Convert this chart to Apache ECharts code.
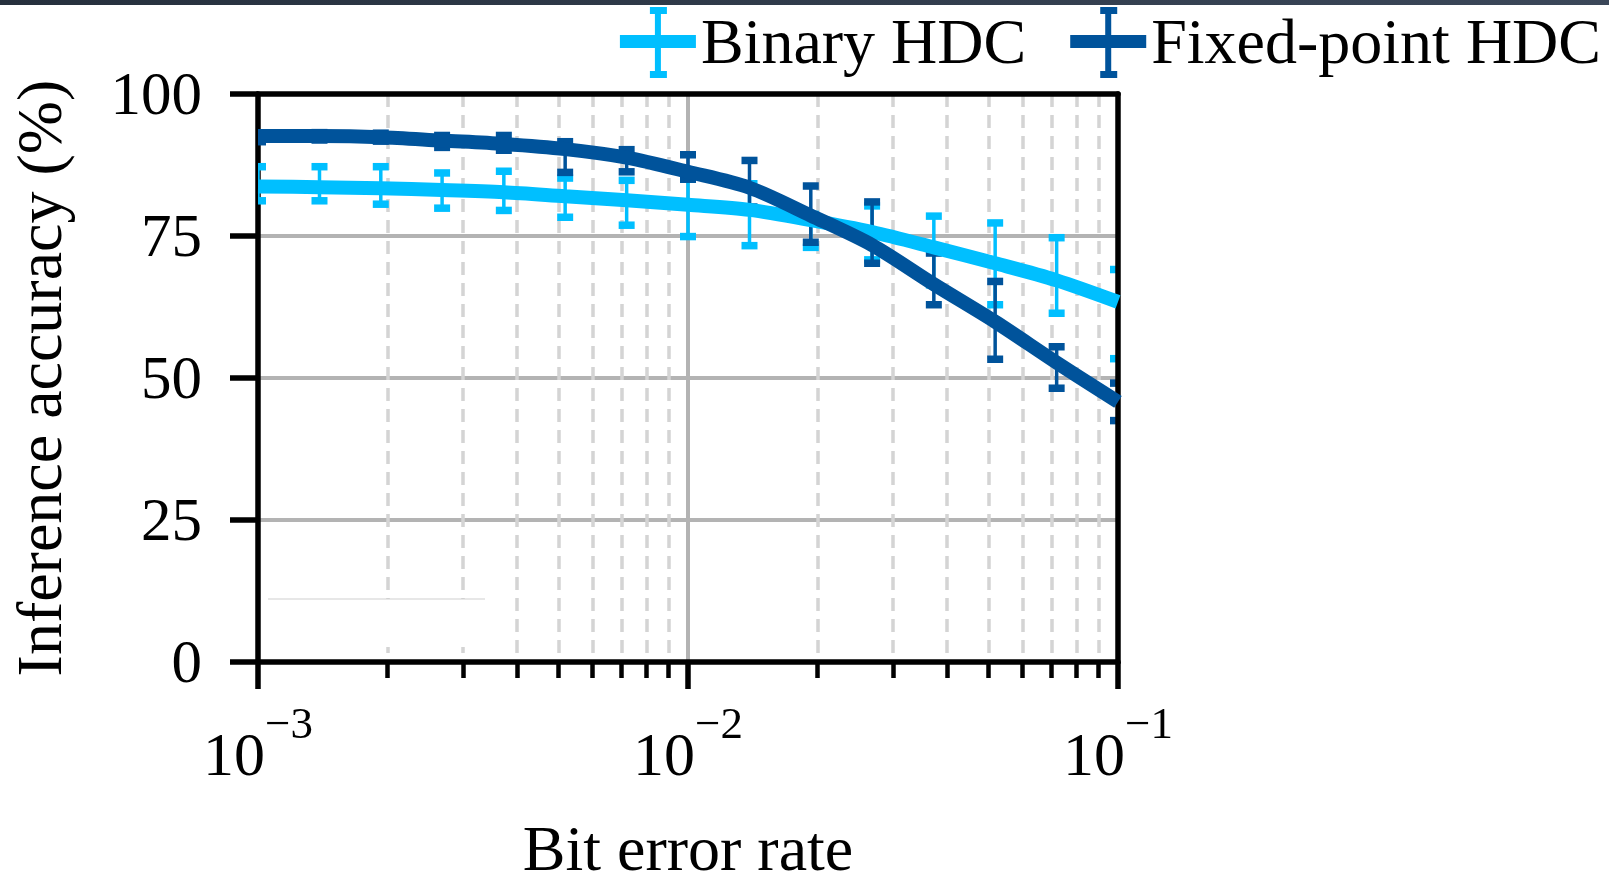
<!doctype html>
<html>
<head>
<meta charset="utf-8"/>
<title>bit error rate vs accuracy</title>
<script src="https://cdn.jsdelivr.net/npm/echarts@6/dist/echarts.min.js"></script>
<style>
*{margin:0;padding:0;}
body{background:#ffffff;}
#main{width:1609px;height:877px;}
</style>
</head>
<body>
<div id="main"></div>
<script type="text/javascript">

// bit error rate (x), 7 points per decade
var berValues = [0.001, 0.00139, 0.00193, 0.00268, 0.00373, 0.00518, 0.00720, 0.01,
                 0.0139, 0.0193, 0.0268, 0.0373, 0.0518, 0.0720, 0.1];

// fitted curves
var binaryFit = [83.7, 83.6, 83.4, 83.1, 82.7, 82.0, 81.3, 80.5, 79.6, 77.8, 75.7, 73.0, 70.2, 67.2, 63.4];
var fixedFit  = [92.6, 92.6, 92.4, 91.8, 91.2, 90.3, 88.8, 86.3, 83.5, 78.6, 73.4, 66.5, 59.9, 52.7, 45.8];

// error bars (low / high)
var binaryLow  = [81.2, 81.2, 80.6, 79.9, 79.5, 78.3, 76.9, 74.9, 73.3, 73.0, 70.8, 66.4, 62.9, 61.4, 53.4];
var binaryHigh = [87.2, 87.2, 87.2, 86.1, 86.4, 85.2, 84.8, 85.0, 84.2, 78.8, 80.3, 78.5, 77.3, 74.7, 69.1];
var fixedLow   = [91.6, 91.9, 91.7, 90.6, 90.1, 86.2, 86.3, 85.0, 80.1, 73.9, 70.2, 62.9, 53.3, 48.2, 42.5];
var fixedHigh  = [93.0, 93.2, 93.1, 92.7, 92.7, 91.6, 90.2, 89.3, 88.3, 83.8, 81.0, 72.0, 67.0, 55.5, 49.1];

var yTicks = [0, 25, 50, 75, 100];
var seriesNames = ['Binary HDC', 'Fixed-point HDC'];

var LIGHT = '#00BFFF';
var DARK = '#00539B';
var FONT = 'Liberation Serif';

function pairs(a) {
  return berValues.map(function (x, i) { return [x, a[i]]; });
}
function bars(lo, hi) {
  return berValues.map(function (x, i) { return [x, lo[i], hi[i]]; });
}

// vertical error bar with flat caps
function errorBar(params, api) {
  var x = api.value(0);
  var lo = api.coord([x, api.value(1)]);
  var hi = api.coord([x, api.value(2)]);
  var color = api.visual('color');
  var cw = 16, ch = 7.5;
  return {
    type: 'group',
    children: [
      {type: 'line', shape: {x1: lo[0], y1: lo[1], x2: hi[0], y2: hi[1]}, style: {stroke: color, lineWidth: 3.5}},
      {type: 'rect', shape: {x: hi[0] - cw / 2, y: hi[1] - ch / 2, width: cw, height: ch}, style: {fill: color}},
      {type: 'rect', shape: {x: lo[0] - cw / 2, y: lo[1] - ch / 2, width: cw, height: ch}, style: {fill: color}}
    ]
  };
}

// frame lines (top / right), drawn over the series
function boxAxis(pos) {
  return {
    show: true,
    position: pos,
    z: 3,
    axisLine: {show: true, onZero: false, lineStyle: {color: '#000', width: 5.5}},
    axisTick: {show: false},
    axisLabel: {show: false},
    splitLine: {show: false}
  };
}

var chart = echarts.init(document.getElementById('main'));

var topX = boxAxis('top');
topX.type = 'log'; topX.logBase = 10; topX.min = 0.001; topX.max = 0.1;
var rightY = boxAxis('right');
rightY.type = 'value'; rightY.min = 0; rightY.max = 100;

var option = {
  animation: false,
  backgroundColor: '#ffffff',
  grid: {left: 258, right: 491, top: 94, bottom: 215, containLabel: false, outerBoundsMode: 'none'},
  legend: {
    data: seriesNames,
    right: 8,
    top: 7,
    padding: 0,
    itemGap: 44,
    itemWidth: 76,
    itemHeight: 71,
    icon: 'path://M0,28H76V41H0Z M35,0H41V71H35Z M30,0H47V7H30Z M30,64H47V71H30Z',
    formatter: function (name) { return '{s| }\n{t|' + name + '}'; },
    textStyle: {
      color: '#000',
      rich: {
        s: {fontSize: 1, lineHeight: 8},
        t: {fontFamily: FONT, fontSize: 64, lineHeight: 64, color: '#000'}
      }
    }
  },
  xAxis: [
    {
      type: 'log',
      logBase: 10,
      min: 0.001,
      max: 0.1,
      interval: 1,
      position: 'bottom',
      axisLine: {show: true, onZero: false, lineStyle: {color: '#000', width: 5.5}},
      axisTick: {show: true, inside: false, length: 27, lineStyle: {color: '#000', width: 5.5}},
      minorTick: {show: true, splitNumber: 9, length: 16, lineStyle: {color: '#000', width: 4.5}},
      splitLine: {show: true, lineStyle: {color: '#b3b3b3', width: 4}},
      minorSplitLine: {show: true, lineStyle: {color: '#d4d4d4', width: 3.5, type: [13, 8]}},
      axisLabel: {
        margin: 42,
        formatter: function (v) {
          var e = Math.round(Math.log(v) / Math.LN10);
          return '{a|10}{b|' + (e < 0 ? '\u2212' : '') + Math.abs(e) + '}';
        },
        rich: {
          a: {fontFamily: FONT, fontSize: 62, lineHeight: 110, color: '#000'},
          b: {fontFamily: FONT, fontSize: 45, lineHeight: 45, color: '#000', verticalAlign: 'top'}
        }
      },
      name: 'Bit error rate',
      nameLocation: 'middle',
      nameGap: 159,
      nameTextStyle: {fontFamily: FONT, fontSize: 64, color: '#000'}
    },
    topX
  ],
  yAxis: [
    {
      type: 'value',
      min: yTicks[0],
      max: yTicks[yTicks.length - 1],
      interval: 25,
      position: 'left',
      axisLine: {show: true, onZero: false, lineStyle: {color: '#000', width: 5.5}},
      axisTick: {show: true, inside: false, length: 28, lineStyle: {color: '#000', width: 5.5}},
      splitLine: {show: true, lineStyle: {color: '#b3b3b3', width: 4}},
      axisLabel: {margin: 56, fontFamily: FONT, fontSize: 61, color: '#000', verticalAlign: 'top', lineHeight: 8},
      name: 'Inference accuracy (%)',
      nameLocation: 'middle',
      nameGap: 182,
      nameTextStyle: {fontFamily: FONT, fontSize: 64, color: '#000'}
    },
    rightY
  ],
  series: [
    {
      name: 'Binary HDC bars',
      type: 'custom',
      clip: true,
      itemStyle: {color: LIGHT},
      renderItem: errorBar,
      encode: {x: 0, y: [1, 2]},
      data: bars(binaryLow, binaryHigh)
    },
    {
      name: 'Fixed-point HDC bars',
      type: 'custom',
      clip: true,
      itemStyle: {color: DARK},
      renderItem: errorBar,
      encode: {x: 0, y: [1, 2]},
      data: bars(fixedLow, fixedHigh)
    },
    {
      name: seriesNames[0],
      type: 'line',
      smooth: 0.3,
      showSymbol: false,
      clip: true,
      itemStyle: {color: LIGHT},
      lineStyle: {color: LIGHT, width: 14},
      data: pairs(binaryFit)
    },
    {
      name: seriesNames[1],
      type: 'line',
      smooth: 0.3,
      showSymbol: false,
      clip: true,
      itemStyle: {color: DARK},
      lineStyle: {color: DARK, width: 14},
      data: pairs(fixedFit)
    }
  ],
  graphic: [
    {
      type: 'rect',
      z: 10,
      shape: {x: 0, y: 0, width: 1609, height: 5},
      style: {fill: new echarts.graphic.LinearGradient(0, 0, 1, 0, [
        {offset: 0, color: '#26303d'}, {offset: 1, color: '#3b4759'}
      ])}
    },
    {
      type: 'rect',
      z: 1,
      shape: {x: 268, y: 599, width: 217, height: 48},
      style: {fill: '#ffffff'}
    },
    {
      type: 'line',
      z: 1,
      shape: {x1: 268, y1: 599, x2: 485, y2: 599},
      style: {stroke: '#cfcfcf', lineWidth: 1}
    }
  ]
};

chart.setOption(option);

</script>
</body>
</html>
